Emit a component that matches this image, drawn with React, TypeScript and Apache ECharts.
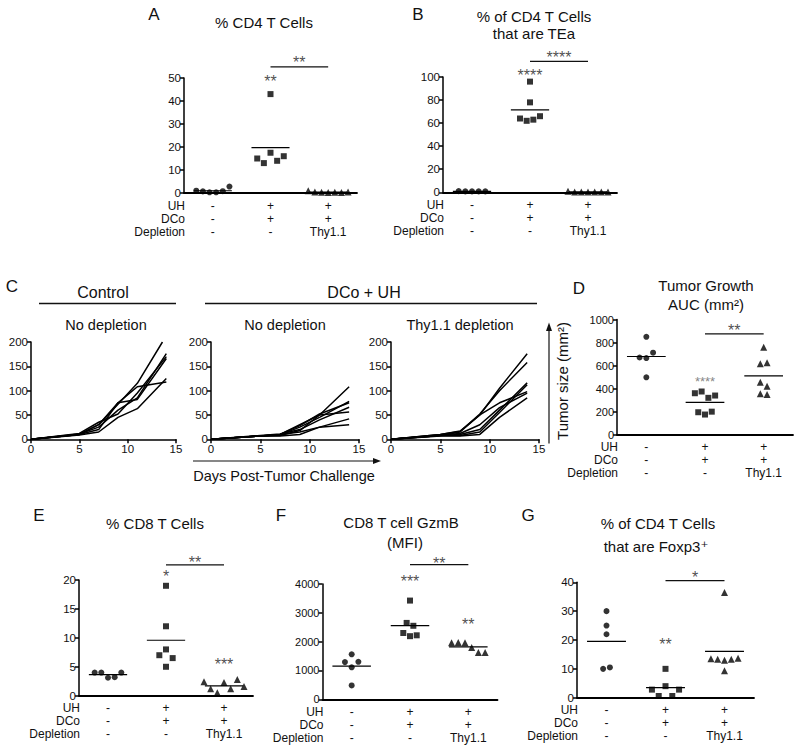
import { useEffect, useRef } from 'react';
import * as echarts from 'echarts';

const FONT = '"Liberation Sans", Arial, Helvetica, "DejaVu Sans", sans-serif';
const INK = '#111';

// ---------- shared treatment table ----------
const treatmentColumns = ['-\n-\n-', '+\n+\n-', '+\n+\nThy1.1'];
const treatmentRows = ['UH', 'DCo', 'Depletion'];

// ---------- Panel A: % CD4 T cells ----------
const aControl = [1.0, 0.7, 0.3, 0.3, 0.8, 2.8];
const aDcoUh = [43, 15, 13, 17.5, 14, 16];
const aThy = [1.0, 0.4, 0.3, 0.2, 0.3, 0.2, 0.4];

// ---------- Panel B: % of CD4 T cells that are TEa ----------
const bControl = [1.0, 0.8, 0.8, 0.8, 0.8];
const bDcoUh = [96, 78, 64, 62, 63, 66];
const bThy = [1.0, 0.3, 0.3, 0.3, 0.3, 0.3, 0.3];

// ---------- Panel C: tumor growth curves ----------
const growthDays = [0, 5, 7, 9, 11, 14];
const controlCurves = [
  [0, 10, 30, 72, 115, 200],
  [0, 10, 30, 75, 108, 118],
  [0, 11, 25, 60, 85, 176],
  [0, 10, 20, 75, 82, 166],
  [0, 9, 15, 45, 63, 125],
  [0, 12, 35, 52, 95, 170],
];
const controlLastDay = [13.6, 14, 14, 14, 14, 14];
const dcoUhCurves = [
  [0, 7, 10, 30, 50, 108],
  [0, 7, 9, 25, 45, 78],
  [0, 7, 10, 28, 52, 75],
  [0, 8, 11, 20, 40, 66],
  [0, 7, 8, 18, 50, 56],
  [0, 7, 10, 15, 25, 42],
  [0, 7, 7, 10, 25, 30],
];
const thyCurves = [
  [0, 10, 17, 50, 105, 176],
  [0, 10, 16, 52, 100, 158],
  [0, 8, 15, 50, 75, 98],
  [0, 8, 10, 20, 60, 116],
  [0, 8, 8, 15, 55, 112],
  [0, 7, 7, 10, 45, 85],
  [0, 9, 12, 30, 65, 95],
];
const thyLastDay = 13.8;
const growthTicks = { xMax: 15, xStep: 5, yMax: 200, yStep: 50 };

// ---------- Panel D: tumor growth AUC ----------
const dControl = [850, 670, 665, 712, 498];
const dDcoUh = [360, 375, 320, 340, 195, 175, 200];
const dThy = [760, 615, 625, 455, 420, 355, 350];

// ---------- Panel E: % CD8 T cells ----------
const eControl = [4.0, 4.0, 3.1, 3.2, 4.0];
const eDcoUh = [19, 12, 7, 8, 6.5, 5];
const eThy = [2.4, 1.2, 0.5, 2.3, 1.2, 2.8, 1.6];

// ---------- Panel F: CD8 GzmB MFI ----------
const fControl = [1560, 1290, 1110, 1300, 480];
const fDcoUh = [3425, 2650, 2550, 2300, 2190, 2220];
const fThy = [1960, 1970, 1960, 1800, 1620, 1620];

// ---------- Panel G: % Foxp3+ ----------
const gControl = [30, 25, 22, 10, 10.5];
const gDcoUh = [10, 2.8, 0.6, 4, 0.6, 2.8];
const gThy = [13.5, 13.3, 13.0, 13.3, 13.7, 36.5, 9.3];

// ---------- significance annotations (data units) ----------
const aStars = [{ g: 1, v: 50.4, t: '**' }, { g: 1.5, v: 58.3, t: '**' }];
const aBars = [{ from: 1, to: 2, v: 54.8 }];
const bStars = [{ g: 1, v: 105, t: '****' }, { g: 1.5, v: 120.5, t: '****' }];
const bBars = [{ from: 1, to: 2, v: 113.6 }];
const dStars = [{ g: 1, v: 494, t: '****', muted: true }, { g: 1.5, v: 937, t: '**' }];
const dBars = [{ from: 1, to: 2, v: 876 }];
const eStars = [{ g: 1, v: 21.3, t: '*' }, { g: 1.5, v: 23.8, t: '**' }, { g: 2, v: 6.05, t: '***' }];
const eBars = [{ from: 1, to: 2, v: 22.6 }];
const fStars = [{ g: 1, v: 4242, t: '***' }, { g: 1.5, v: 4855, t: '**' }, { g: 2, v: 2744, t: '**' }];
const fBars = [{ from: 1, to: 2, v: 4671 }];
const gStars = [{ g: 1.5, v: 43.1, t: '*' }, { g: 1, v: 20, t: '**' }];
const gBars = [{ from: 1, to: 2, v: 40.6 }];

// ---------- layout ----------
const BOX = {
  A: { left: 184, top: 78, width: 173, height: 115 },
  B: { left: 443, top: 77, width: 174, height: 115.3 },
  C1: { left: 31, top: 342, width: 145, height: 97.3 },
  C2: { left: 211, top: 342, width: 148, height: 97.3 },
  C3: { left: 391, top: 342, width: 148, height: 97.3 },
  D: { left: 617, top: 319.5, width: 176, height: 115.2 },
  E: { left: 79, top: 580, width: 174, height: 115.7 },
  F: { left: 322.5, top: 584, width: 175, height: 115.3 },
  G: { left: 577, top: 582.3, width: 177, height: 115.4 },
};

const SYMBOLS = ['circle', 'rect', 'triangle'];
const SIZES = [6, 6, 7];
const STEP = 0.115;

function swarm(values: number[], thr: number, step: number): number[] {
  const idx = values.map((_, i) => i).sort((a, b) => values[a] - values[b]);
  const clusters: number[][] = [];
  let cur: number[] = [];
  idx.forEach((i, k) => {
    if (k > 0 && values[i] - values[idx[k - 1]] >= thr) {
      clusters.push(cur);
      cur = [];
    }
    cur.push(i);
  });
  if (cur.length) clusters.push(cur);
  const off = values.map(() => 0);
  clusters.forEach((c) => {
    const ord = [...c].sort((a, b) => a - b);
    ord.forEach((i, k) => {
      off[i] = (k - (ord.length - 1) / 2) * step;
    });
  });
  return off;
}

const yAxisStyle = (gridIndex: number, max: number, interval: number, fontSize = 11.5) => ({
  type: 'value',
  gridIndex,
  min: 0,
  max,
  interval,
  axisLine: { show: true, onZero: false, lineStyle: { color: '#000', width: 1.5 } },
  axisTick: { show: true, length: 4, lineStyle: { color: '#000', width: 1.5 } },
  axisLabel: { fontFamily: FONT, fontSize, color: INK, margin: 3, formatter: (v: number) => String(v) },
  splitLine: { show: false },
});

function addScatterPanel(
  opt: any,
  box: any,
  ymax: number,
  interval: number,
  groups: number[][],
  stars: any[],
  bars: any[],
  tickFont = 11.5
) {
  const gi = opt.grid.length;
  opt.grid.push({ ...box });
  opt.xAxis.push({
    type: 'category',
    gridIndex: gi,
    position: 'bottom',
    data: treatmentColumns,
    boundaryGap: true,
    axisLine: { show: true, onZero: false, lineStyle: { color: '#000', width: 1.8 } },
    axisTick: { show: false },
    axisLabel: { interval: 0, fontFamily: FONT, fontSize: 12, lineHeight: 13, margin: 6, color: INK },
    splitLine: { show: false },
  });
  const xVal = opt.xAxis.length;
  opt.xAxis.push({
    type: 'value',
    gridIndex: gi,
    position: 'bottom',
    min: -0.5,
    max: 2.5,
    show: false,
    axisLine: { onZero: false },
    splitLine: { show: false },
  });
  const yi = opt.yAxis.length;
  opt.yAxis.push(yAxisStyle(gi, ymax, interval, tickFont));
  const thr = 7 / (box.height / ymax);
  groups.forEach((vals, g) => {
    const off = swarm(vals, thr, STEP);
    opt.series.push({
      type: 'scatter',
      xAxisIndex: xVal,
      yAxisIndex: yi,
      symbol: SYMBOLS[g],
      symbolSize: SIZES[g],
      itemStyle: { color: '#000' },
      clip: false,
      z: 4,
      data: vals.map((v, i) => [g + off[i], v]),
    });
    const m = vals.reduce((a, b) => a + b, 0) / vals.length;
    opt.series.push({
      type: 'line',
      xAxisIndex: xVal,
      yAxisIndex: yi,
      symbol: 'none',
      silent: true,
      clip: false,
      lineStyle: { color: '#000', width: 1.2 },
      data: [
        [g - 0.33, m],
        [g + 0.33, m],
      ],
    });
  });
  bars.forEach((b) => {
    opt.series.push({
      type: 'line',
      xAxisIndex: xVal,
      yAxisIndex: yi,
      symbol: 'none',
      silent: true,
      clip: false,
      lineStyle: { color: '#111', width: 1.3 },
      data: [
        [b.from, b.v],
        [b.to, b.v],
      ],
    });
  });
  opt.series.push({
    type: 'scatter',
    xAxisIndex: xVal,
    yAxisIndex: yi,
    symbolSize: 1,
    clip: false,
    silent: true,
    itemStyle: { color: 'rgba(0,0,0,0)' },
    data: stars.map((s) => ({
      value: [s.g, s.v],
      name: s.t,
      label: {
        show: true,
        formatter: '{b}',
        position: 'inside',
        offset: [0, 4],
        fontFamily: FONT,
        fontSize: s.muted ? 13 : 16,
        color: s.muted ? '#666' : '#222',
      },
    })),
  });
  // treatment row names
  const bottom = box.top + box.height;
  treatmentRows.forEach((r, k) => {
    opt.graphic.push({
      type: 'text',
      x: box.left + 1,
      y: bottom + 12.5 + k * 13,
      silent: true,
      style: { text: r, fontFamily: FONT, fontSize: 12, fill: INK, align: 'right', verticalAlign: 'middle' },
    });
  });
}

function addGrowthPanel(opt: any, box: any, curves: number[][], lastDays: number[]) {
  const gi = opt.grid.length;
  opt.grid.push({ ...box });
  const xi = opt.xAxis.length;
  opt.xAxis.push({
    type: 'value',
    gridIndex: gi,
    min: 0,
    max: growthTicks.xMax,
    interval: growthTicks.xStep,
    axisLine: { show: true, onZero: false, lineStyle: { color: '#000', width: 1.5 } },
    axisTick: { show: true, length: 4, lineStyle: { color: '#000', width: 1.5 } },
    axisLabel: { fontFamily: FONT, fontSize: 11.5, color: INK, margin: 4, formatter: (v: number) => String(v) },
    splitLine: { show: false },
  });
  const yi = opt.yAxis.length;
  opt.yAxis.push(yAxisStyle(gi, growthTicks.yMax, growthTicks.yStep));
  curves.forEach((vals, c) => {
    const days = growthDays.map((d, i) => (i === growthDays.length - 1 ? lastDays[c] : d));
    opt.series.push({
      type: 'line',
      xAxisIndex: xi,
      yAxisIndex: yi,
      symbol: 'none',
      silent: true,
      lineStyle: { color: '#000', width: 1.5 },
      data: vals.map((v, i) => [days[i], v]),
    });
  });
}

const txt = (x: number, y: number, text: string, size: number, extra: any = {}) => ({
  type: 'text',
  x,
  y,
  silent: true,
  rotation: extra.rotation || 0,
  style: {
    text,
    fontFamily: FONT,
    fontSize: size,
    fill: extra.fill || INK,
    align: extra.align || 'center',
    verticalAlign: 'middle',
  },
});
const seg = (x1: number, y1: number, x2: number, y2: number, w = 1.3) => ({
  type: 'line',
  silent: true,
  shape: { x1, y1, x2, y2 },
  style: { stroke: '#111', lineWidth: w },
});

function buildOption() {
  const opt: any = {
    animation: false,
    backgroundColor: '#fff',
    grid: [],
    xAxis: [],
    yAxis: [],
    series: [],
    graphic: [],
  };

  addScatterPanel(opt, BOX.A, 50, 10, [aControl, aDcoUh, aThy], aStars, aBars);
  addScatterPanel(opt, BOX.B, 100, 20, [bControl, bDcoUh, bThy], bStars, bBars);
  addGrowthPanel(opt, BOX.C1, controlCurves, controlLastDay);
  addGrowthPanel(opt, BOX.C2, dcoUhCurves, dcoUhCurves.map(() => 14));
  addGrowthPanel(opt, BOX.C3, thyCurves, thyCurves.map(() => thyLastDay));
  addScatterPanel(opt, BOX.D, 1000, 200, [dControl, dDcoUh, dThy], dStars, dBars, 11);
  addScatterPanel(opt, BOX.E, 20, 5, [eControl, eDcoUh, eThy], eStars, eBars);
  addScatterPanel(opt, BOX.F, 4000, 1000, [fControl, fDcoUh, fThy], fStars, fBars, 11);
  addScatterPanel(opt, BOX.G, 40, 10, [gControl, gDcoUh, gThy], gStars, gBars);

  const g = opt.graphic;
  // panel letters
  g.push(txt(154, 14, 'A', 17));
  g.push(txt(418, 14, 'B', 17));
  g.push(txt(12, 286, 'C', 17));
  g.push(txt(579, 288, 'D', 17));
  g.push(txt(39, 515, 'E', 17));
  g.push(txt(281, 515, 'F', 17));
  g.push(txt(528, 515, 'G', 17));

  // titles
  g.push(txt(264, 22.5, '% CD4 T Cells', 15));
  g.push(txt(534, 16, '% of CD4 T Cells', 15));
  g.push(txt(534, 33.5, 'that are TEa', 15));
  g.push(txt(706, 285, 'Tumor Growth', 15));
  g.push(txt(706, 304, 'AUC (mm²)', 15));
  g.push(txt(155, 523.5, '% CD8 T Cells', 15));
  g.push(txt(401, 522.5, 'CD8 T cell GzmB', 15));
  g.push(txt(405, 542, '(MFI)', 15));
  g.push(txt(658, 523.5, '% of CD4 T Cells', 15));
  g.push(txt(656, 546, 'that are Foxp3⁺', 15));

  // panel C headers
  g.push(txt(103, 292.5, 'Control', 16));
  g.push(seg(39, 303.5, 176, 303.5));
  g.push(txt(364, 292.5, 'DCo + UH', 16));
  g.push(seg(205, 303.5, 537, 303.5));
  g.push(txt(106, 324.5, 'No depletion', 14.5));
  g.push(txt(285, 324.5, 'No depletion', 14.5));
  g.push(txt(460, 324.5, 'Thy1.1 depletion', 14.5));

  // x-axis caption with arrow
  g.push(seg(193, 461, 376, 461, 1.2));
  g.push({ type: 'polygon', silent: true, shape: { points: [[381, 461], [373, 458], [373, 464]] }, style: { fill: '#111' } });
  g.push(txt(284, 475.5, 'Days Post-Tumor Challenge', 14.5));

  // y caption with arrow
  g.push(seg(549, 443.5, 549, 328, 1.2));
  g.push({ type: 'polygon', silent: true, shape: { points: [[549, 322.5], [546, 331], [552, 331]] }, style: { fill: '#111' } });
  g.push(txt(562, 381, 'Tumor size (mm²)', 15, { rotation: Math.PI / 2 }));

  return opt;
}

export default function App() {
  const ref = useRef<HTMLDivElement>(null);
  useEffect(() => {
    const chart = echarts.init(ref.current as HTMLDivElement, null, { renderer: 'svg' });
    chart.setOption(buildOption());
    return () => chart.dispose();
  }, []);
  return (
    <div
      ref={ref}
      style={{ position: 'fixed', left: 0, top: 0, width: 800, height: 752, background: '#fff' }}
    />
  );
}
